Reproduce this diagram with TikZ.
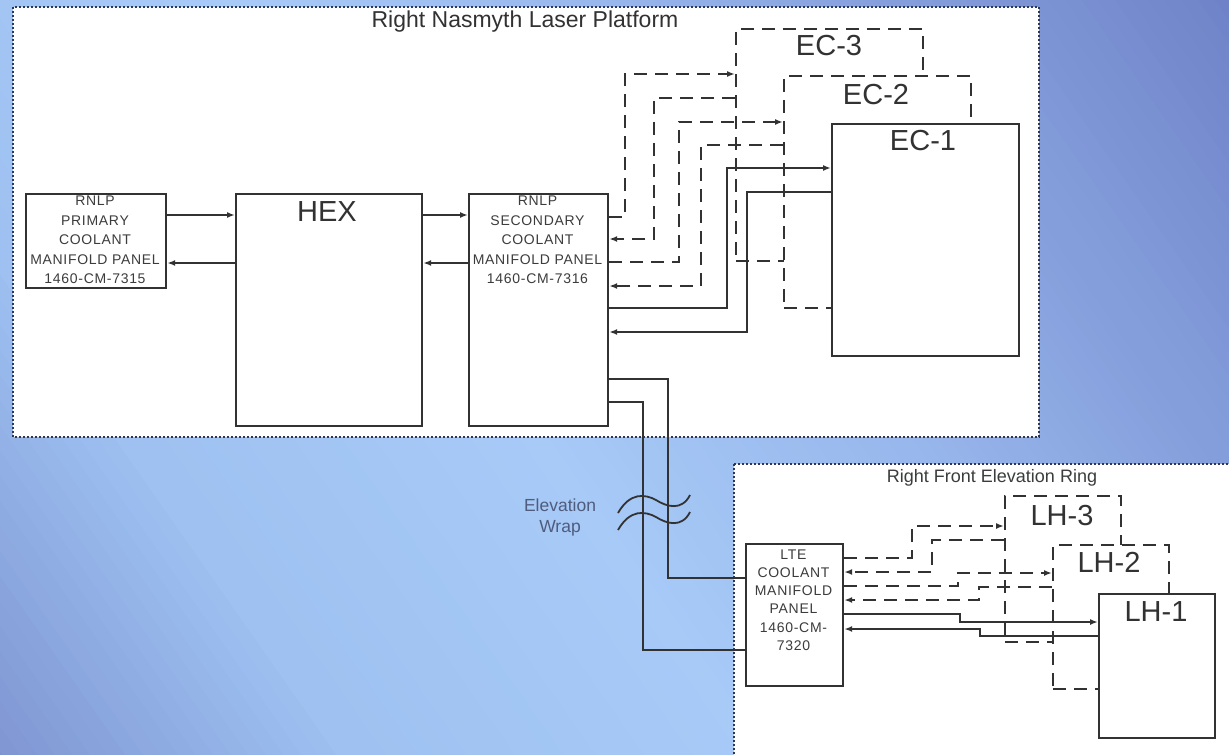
\documentclass[tikz,border=0pt]{standalone}
\usepackage{fontspec}
\setmainfont{Liberation Sans}
\usetikzlibrary{arrows.meta}
\definecolor{ln}{RGB}{50,50,50}
\definecolor{txt}{RGB}{60,60,60}
\definecolor{dotc}{RGB}{45,55,85}
\definecolor{bgz}{RGB}{120,140,204}
\definecolor{bgy}{RGB}{158,193,241}
\definecolor{bgx}{RGB}{167,202,247}
\definecolor{bgw}{RGB}{152,183,236}
\definecolor{bgv}{RGB}{132,158,219}
\definecolor{bgu}{RGB}{106,123,195}
\definecolor{wraptxt}{RGB}{80,92,125}
\begin{document}
\begin{tikzpicture}[x=1pt,y=-1pt,
  pbox/.style={draw=ln, line width=2.2pt, fill=white, anchor=north west, inner sep=0pt, rectangle},
  dbox/.style={pbox, dash pattern=on 13pt off 8pt, line width=2pt},
  region/.style={draw=dotc, line width=2pt, dash pattern=on 2pt off 2pt, fill=white},
  sl/.style={draw=ln, line width=1.8pt},
  dl/.style={sl, dash pattern=on 13pt off 8pt},
  arr/.style={-{Latex[length=8pt,width=6pt]}},
  ptext/.style={text=txt, align=center, inner sep=0pt},
  big/.style={text=ln, inner sep=0pt, font=\fontsize{29}{30}\selectfont},
]
\useasboundingbox (0,0) rectangle (1229,755);
% background gradient (stripes along a diagonal axis)
\begin{scope}
\clip (0,0) rectangle (1229,755);
\begin{scope}[shift={(614.5,377.5)}, rotate=35]
\foreach \ua/\ub/\ca/\cb in {-790/-430/bgz/bgy, -430/-100/bgy/bgx, -100/200/bgx/bgw, 200/450/bgw/bgv, 450/790/bgv/bgu}{
  \foreach \k in {0,...,24}{
    \pgfmathsetmacro\uu{\ua+(\ub-\ua)*\k/25}
    \pgfmathsetmacro\ww{(\ub-\ua)/25+1}
    \pgfmathtruncatemacro\pp{100*\k/24}
    \fill[\cb!\pp!\ca] (\uu,-1000) rectangle ++(\ww,2000);
  }
}
\end{scope}
\end{scope}

% regions
\draw[region] (13,7) rectangle (1039,437);
\draw[region] (734,464) rectangle (1240,765);
\node[ptext, text=ln, font=\fontsize{23}{25}\selectfont] (t1) at (525,22) {Right Nasmyth Laser Platform};
\node[ptext, text=txt, font=\fontsize{18}{20}\selectfont] (t2) at (992,478) {Right Front Elevation Ring};

% top row
\node[pbox, minimum width=140pt, minimum height=94pt] (pri) at (25,193) {};
\node[pbox, minimum width=186pt, minimum height=232pt] (hex) at (235,193) {};
\node[pbox, minimum width=139pt, minimum height=232pt] (sec) at (468,193) {};
\node[ptext, font=\fontsize{14}{19.4}\selectfont\addfontfeature{LetterSpace=5}] (pritx) at (95,240) {RNLP\\PRIMARY\\COOLANT\\MANIFOLD PANEL\\1460-CM-7315};
\node[ptext, font=\fontsize{14}{19.4}\selectfont\addfontfeature{LetterSpace=5}] (sectx) at (537.5,240) {RNLP\\SECONDARY\\COOLANT\\MANIFOLD PANEL\\1460-CM-7316};
\node[big] (hextx) at (327,212) {HEX};

\draw[sl,arr] ([yshift=-22pt]pri.north east) -- ([yshift=-22pt]hex.north west);
\draw[sl,arr] ([yshift=-70pt]hex.north west) -- ([yshift=-70pt]pri.north east);
\draw[sl,arr] ([yshift=-22pt]hex.north east) -- ([yshift=-22pt]sec.north west);
\draw[sl,arr] ([yshift=-70pt]sec.north west) -- ([yshift=-70pt]hex.north east);

% EC stack
\node[dbox, minimum width=187pt, minimum height=232pt] (ec3) at (735,28) {};
\node[dbox, minimum width=187pt, minimum height=232pt] (ec2) at (783,75) {};
\node[pbox, minimum width=187pt, minimum height=232pt] (ec1) at (831,123) {};
\node[big] (ec3tx) at (829,46) {EC-3};
\node[big] (ec2tx) at (876,95) {EC-2};
\node[big] (ec1tx) at (923,141) {EC-1};

\draw[dl,arr] ([yshift=-24pt]sec.north east) -- ++(16,0) |- ([yshift=-46pt]ec3.north west);
\draw[dl,arr] ([yshift=-70pt]ec3.north west) -- ++(-81,0) |- ([yshift=-46pt]sec.north east);
\draw[dl,arr] ([yshift=-69pt]sec.north east) -- ++(70,0) |- ([yshift=-47pt]ec2.north west);
\draw[dl,arr] ([yshift=-70pt]ec2.north west) -- ++(-82,0) |- ([yshift=-93pt]sec.north east);
\draw[sl,arr] ([yshift=-115pt]sec.north east) -- ++(118,0) |- ([yshift=-45pt]ec1.north west);
\draw[sl,arr] ([yshift=-69pt]ec1.north west) -- ++(-84,0) |- ([yshift=-139pt]sec.north east);

% lower region
\node[pbox, minimum width=97pt, minimum height=142pt] (lte) at (745,543) {};
\node[ptext, font=\fontsize{14}{18.2}\selectfont\addfontfeature{LetterSpace=5}] (ltetx) at (793.5,600) {LTE\\COOLANT\\MANIFOLD\\PANEL\\1460-CM-\\7320};

\node[dbox, minimum width=116pt, minimum height=146pt] (lh3) at (1004,495) {};
\node[dbox, minimum width=116pt, minimum height=144pt] (lh2) at (1052,544) {};
\node[pbox, minimum width=116pt, minimum height=144pt] (lh1) at (1098,593) {};
\node[big] (lh3tx) at (1062,516) {LH-3};
\node[big] (lh2tx) at (1109,562) {LH-2};
\node[big] (lh1tx) at (1156,612) {LH-1};

\draw[dl,arr] ([yshift=-15pt]lte.north east) -- ++(68,0) |- ([yshift=-31pt]lh3.north west);
\draw[dl,arr] ([yshift=-45pt]lh3.north west) -- ++(-72,0) |- ([yshift=-29pt]lte.north east);
\draw[dl,arr] ([yshift=-43pt]lte.north east) -- ++(114,0) |- ([yshift=-29pt]lh2.north west);
\draw[dl,arr] ([yshift=-43pt]lh2.north west) -- ++(-73,0) |- ([yshift=-57pt]lte.north east);
\draw[sl,arr] ([yshift=-71pt]lte.north east) -- ++(116,0) |- ([yshift=-29pt]lh1.north west);
\draw[sl,arr] ([yshift=-43pt]lh1.north west) -- ++(-118,0) |- ([yshift=-86pt]lte.north east);

% elevation wrap
\draw[sl] ([yshift=-186pt]sec.north east) -- ++(59,0) |- ([yshift=-35pt]lte.north west);
\draw[sl] ([yshift=-209pt]sec.north east) -- ++(34,0) |- ([yshift=-107pt]lte.north west);
\draw[sl] (618,513) .. controls (630,492) and (645,494) .. (656,500) .. controls (667,507) and (682,511) .. (690,495);
\draw[sl] (618,530) .. controls (630,509) and (645,511) .. (656,517) .. controls (667,524) and (682,528) .. (690,512);
\node[ptext, text=wraptxt, font=\fontsize{17.5}{21}\selectfont] (wraptx) at (560,517) {Elevation\\Wrap};
\end{tikzpicture}
\end{document}
